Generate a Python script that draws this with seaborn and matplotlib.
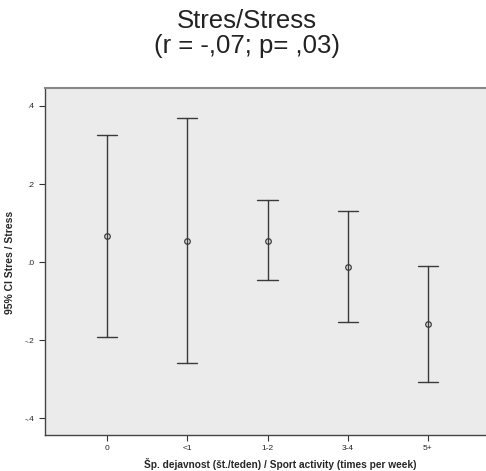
import matplotlib
matplotlib.use('Agg')
import matplotlib.pyplot as plt
import seaborn as sb
import pandas as pd

categories = ["0", "<1", "1-2", "3-4", "5+"]
means = [0.067, 0.055, 0.055, -0.012, -0.158]
ci_low = [-0.192, -0.258, -0.046, -0.154, -0.306]
ci_high = [0.326, 0.370, 0.158, 0.130, -0.010]
yticks = [-0.4, -0.2, 0.0, 0.2, 0.4]
ytick_labels = ["-.4", "-.2", ".0", ".2", ".4"]

sb.set_style("ticks")
plt.rcParams['font.family'] = ['Liberation Sans', 'DejaVu Sans']

# long form table: median of (low, mean, high) is the mean, 100% interval is the CI
rows = []
for c, lo, m, hi in zip(categories, ci_low, means, ci_high):
    for v in (lo, m, hi):
        rows.append({"group": c, "value": v})
df = pd.DataFrame(rows)

fig = plt.figure(figsize=(4.86, 4.71), dpi=100)
ax = fig.add_axes([45/486, 1-435/471, 1-45/486, (435-88)/471])
ax.set_facecolor("#ebebeb")

sb.pointplot(data=df, x="group", y="value", order=categories, estimator="median",
             errorbar=("pi", 100), capsize=0.25, color="#3a3a3a", linestyle="none",
             err_kws={"linewidth": 1.0}, marker="o", markersize=4,
             markerfacecolor="none", markeredgewidth=0.9, ax=ax)

ax.set_xlim(-0.78, 4.73)
ax.set_ylim(-0.443, 0.446)
ax.set_yticks(yticks)
ax.set_yticklabels(ytick_labels)
ax.tick_params(axis="both", labelsize=6, length=4, width=0.8, color="#333333", direction="out")
for s in ["left", "bottom"]:
    ax.spines[s].set_color("#444444")
    ax.spines[s].set_linewidth(1.0)
ax.spines["top"].set_visible(True)
ax.spines["top"].set_color("#888888")
ax.spines["top"].set_linewidth(1.5)
ax.spines["right"].set_visible(False)

ax.set_xlabel("Šp. dejavnost (št./teden) / Sport activity (times per week)",
              fontsize=7.3, fontweight="bold")
ax.xaxis.set_label_coords((280-45)/441, -(458-435)/347)
ax.set_ylabel("95% CI Stres / Stress", fontsize=7.5, fontweight="bold")
ax.yaxis.set_label_coords(-(45-15)/441, (435-262)/347)

fig.text(247/486, 1-21/471, "Stres/Stress", ha="center", va="center",
         fontsize=18.5, color="#222222")
fig.text(247/486, 1-46/471, "(r = -,07; p= ,03)", ha="center", va="center",
         fontsize=18.5, color="#222222")

plt.savefig("out.png", dpi=100)
plt.close()
